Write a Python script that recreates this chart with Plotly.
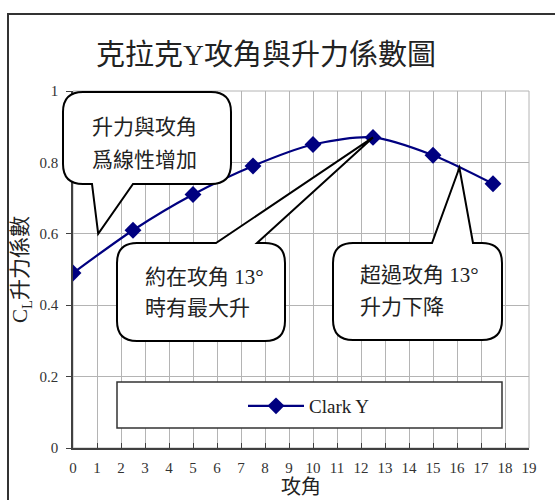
import plotly.graph_objects as go

# Clark Y airfoil: lift coefficient versus angle of attack
angle_deg = [0, 2.5, 5, 7.5, 10, 12.5, 15, 17.5]
lift_coef = [0.49, 0.61, 0.71, 0.79, 0.85, 0.87, 0.82, 0.74]
series_name = "Clark Y"

title_text = "克拉克Y攻角與升力係數圖"
x_title = "攻角"
y_title = "C<sub>L</sub>升力係數"
x_tick_vals = list(range(0, 20))
y_tick_vals = [0, 0.2, 0.4, 0.6, 0.8, 1]

callout_lines = [
    ["升力與攻角", "爲線性增加"],
    ["約在攻角 13°", "時有最大升"],
    ["超過攻角 13°", "升力下降"],
]
# (angle, CL) each callout pointer aims at
callout_targets = [(1.05, 0.60), (angle_deg[5], lift_coef[5]), (16.1, 0.785)]

FONT = "'Liberation Serif', 'Noto Sans CJK TC', serif"
NAVY = "#000080"
TXT = "#222222"

W, H = 555, 500
PL, PR, PT, PB = 73, 529, 91, 448          # plot area in pixels
X_MAX, Y_MAX = 19, 1


def px(x):
    return (x - PL) / (PR - PL)


def py(y):
    return (PB - y) / (PB - PT)


def data_px(a, c):
    return PL + a / X_MAX * (PR - PL), PB - c / Y_MAX * (PB - PT)


def bubble_path(x0, y0, x1, y1, r, side, b0, b1, tip):
    tx, ty = tip
    pts = [("M", (x0 + r, y0))]
    if side == "top":
        pts += [("L", (b0, y0)), ("L", (tx, ty)), ("L", (b1, y0))]
    pts += [("L", (x1 - r, y0)), ("Q", (x1, y0), (x1, y0 + r)),
            ("L", (x1, y1 - r)), ("Q", (x1, y1), (x1 - r, y1))]
    if side == "bottom":
        pts += [("L", (b1, y1)), ("L", (tx, ty)), ("L", (b0, y1))]
    pts += [("L", (x0 + r, y1)), ("Q", (x0, y1), (x0, y1 - r)),
            ("L", (x0, y0 + r)), ("Q", (x0, y0), (x0 + r, y0))]
    out = []
    for seg in pts:
        cmd, coords = seg[0], seg[1:]
        out.append(cmd + " ".join(f"{px(a):.5f},{py(b):.5f}" for a, b in coords))
    return " ".join(out) + " Z"


fig = go.Figure()
fig.add_trace(go.Scatter(
    x=angle_deg, y=lift_coef, name=series_name, mode="lines+markers",
    line=dict(color=NAVY, width=2.2, shape="spline", smoothing=0.8),
    marker=dict(symbol="diamond", size=13, color=NAVY),
))

shapes = []
# outer chart frame
shapes.append(dict(type="rect", xref="paper", yref="paper",
                   x0=px(8), x1=px(620), y0=py(14), y1=py(560),
                   line=dict(color="#333333", width=2), layer="below"))
# plot-area outline
shapes.append(dict(type="rect", xref="paper", yref="paper",
                   x0=0, x1=1, y0=0, y1=1,
                   line=dict(color="#b4b4b4", width=1), layer="below"))
# legend box
shapes.append(dict(type="rect", xref="paper", yref="paper",
                   x0=px(117), x1=px(502), y0=py(382), y1=py(428),
                   fillcolor="white", line=dict(color="#333333", width=1.5),
                   layer="above"))

boxes = [
    (63, 92, 231, 184, 20, "bottom", 92, 133),
    (117, 243, 285, 341, 20, "top", 216, 257),
    (333, 243, 502, 340, 20, "top", 432, 473),
]
text_pos = [(90, (127, 160)), (143, (277, 308)), (358, (275, 307))]

annotations = []
for (x0, y0, x1, y1, r, side, b0, b1), target, lines, (tx, tys) in zip(
        boxes, callout_targets, callout_lines, text_pos):
    tip = data_px(*target)
    shapes.append(dict(type="path", xref="paper", yref="paper",
                       path=bubble_path(x0, y0, x1, y1, r, side, b0, b1, tip),
                       fillcolor="white", line=dict(color="black", width=2),
                       layer="above"))
    for line_text, ty in zip(lines, tys):
        annotations.append(dict(
            text=line_text, xref="paper", yref="paper", x=px(tx), y=py(ty),
            xanchor="left", yanchor="middle", showarrow=False,
            font=dict(family=FONT, size=21, color=TXT)))

fig.update_layout(
    template="none",
    width=W, height=H,
    margin=dict(l=PL, r=W - PR, t=PT, b=H - PB, pad=0),
    paper_bgcolor="white", plot_bgcolor="white",
    font=dict(family=FONT, color=TXT),
    title=dict(text=title_text, x=266 / W, y=1 - 55 / H,
               xanchor="center", yanchor="middle",
               font=dict(family=FONT, size=29, color=TXT)),
    showlegend=True,
    legend=dict(x=px(243), y=py(406), xanchor="left", yanchor="middle",
                bgcolor="rgba(0,0,0,0)", borderwidth=0, itemwidth=56,
                font=dict(family=FONT, size=19, color=TXT)),
    shapes=shapes,
    annotations=annotations,
    xaxis=dict(range=[0, X_MAX], tickvals=x_tick_vals,
               showgrid=True, gridcolor="#b4b4b4", gridwidth=1,
               zeroline=False, showline=True, linecolor="#404040", linewidth=1.5,
               ticks="inside", ticklen=5, tickcolor="#404040",
               ticklabelstandoff=5,
               tickfont=dict(family=FONT, size=15, color="#333333"),
               title=dict(text=x_title, standoff=3,
                          font=dict(family=FONT, size=20, color=TXT))),
    yaxis=dict(range=[0, Y_MAX], tickvals=y_tick_vals,
               showgrid=True, gridcolor="#b4b4b4", gridwidth=1,
               zeroline=False, showline=True, linecolor="#404040", linewidth=1.5,
               ticks="outside", ticklen=5, tickcolor="#404040",
               ticklabelstandoff=5,
               tickfont=dict(family=FONT, size=15, color="#333333"),
               title=dict(text=y_title, standoff=6,
                          font=dict(family=FONT, size=21, color=TXT))),
)

fig.write_html("out.html")
